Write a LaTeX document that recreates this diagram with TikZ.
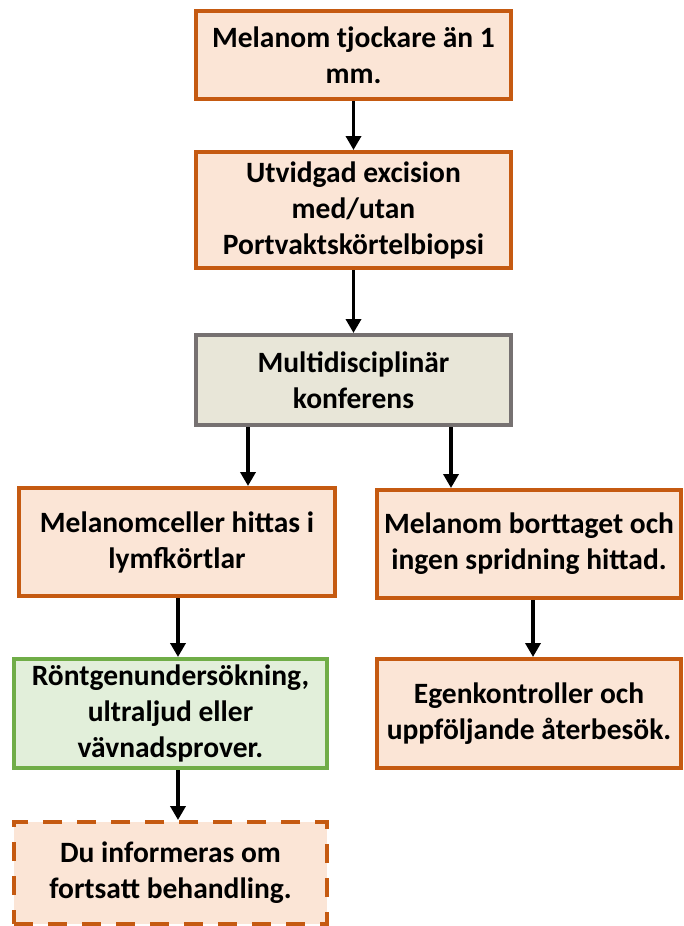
\documentclass[tikz,border=0pt]{standalone}
\usepackage{fontspec}
\setmainfont{Carlito}
\usetikzlibrary{arrows.meta}
\definecolor{ora}{HTML}{C55A11}
\definecolor{orafill}{HTML}{FBE5D6}
\definecolor{gry}{HTML}{767171}
\definecolor{gryfill}{HTML}{E8E6D8}
\definecolor{grn}{HTML}{70AD47}
\definecolor{grnfill}{HTML}{E2EFDA}
\tikzset{
  box/.style={rectangle, inner sep=0pt, line width=4pt, align=center,
    font=\fontsize{29.5}{36}\selectfont\bfseries},
  orabox/.style={box, draw=ora, fill=orafill},
  grybox/.style={box, draw=gry, fill=gryfill},
  grnbox/.style={box, draw=grn, fill=grnfill},
  dashbox/.style={box, draw=ora, fill=orafill, dash pattern=on 19pt off 15pt},
  arr/.style={line width=3.5pt, -{Triangle[width=15pt,length=14pt]}}
}
\begin{document}
\begin{tikzpicture}[x=1pt,y=-1pt]
\useasboundingbox (0,0) rectangle (683,926);
\node[orabox, minimum width=315pt, minimum height=88pt] (b1) at (353.5,55) {Melanom tjockare än 1\\mm.};
\node[orabox, minimum width=315pt, minimum height=116pt] (b2) at (353.5,210) {Utvidgad excision\\med/utan\\Portvaktskörtelbiopsi};
\node[grybox, minimum width=315pt, minimum height=90pt] (b3) at (353.5,380) {Multidisciplinär\\konferens};
\node[orabox, minimum width=316pt, minimum height=108pt] (b4) at (177,542) {Melanomceller hittas i\\lymfkörtlar};
\node[orabox, minimum width=304pt, minimum height=108pt] (b5) at (529,544) {Melanom borttaget och\\ingen spridning hittad.};
\node[grnbox, minimum width=313pt, minimum height=109pt] (b6) at (170.5,713.5) {Röntgenundersökning,\\ultraljud eller\\vävnadsprover.};
\node[orabox, minimum width=304pt, minimum height=109pt] (b7) at (529,713.5) {Egenkontroller och\\uppföljande återbesök.};
\node[dashbox, minimum width=313pt, minimum height=102pt] (b8) at (170.5,873) {Du informeras om\\fortsatt behandling.};
\draw[arr] (b1.south) -- (b2.north);
\draw[arr] (b2.south) -- (b3.north);
\draw[arr] (b3.south -| 248,0) -- (b4.north -| 248,0);
\draw[arr] (b3.south -| 451,0) -- (b5.north -| 451,0);
\draw[arr] (b4.south -| 178,0) -- (b6.north -| 178,0);
\draw[arr] (b5.south -| 533,0) -- (b7.north -| 533,0);
\draw[arr] (b6.south -| 178,0) -- (b8.north -| 178,0);
\end{tikzpicture}
\end{document}
